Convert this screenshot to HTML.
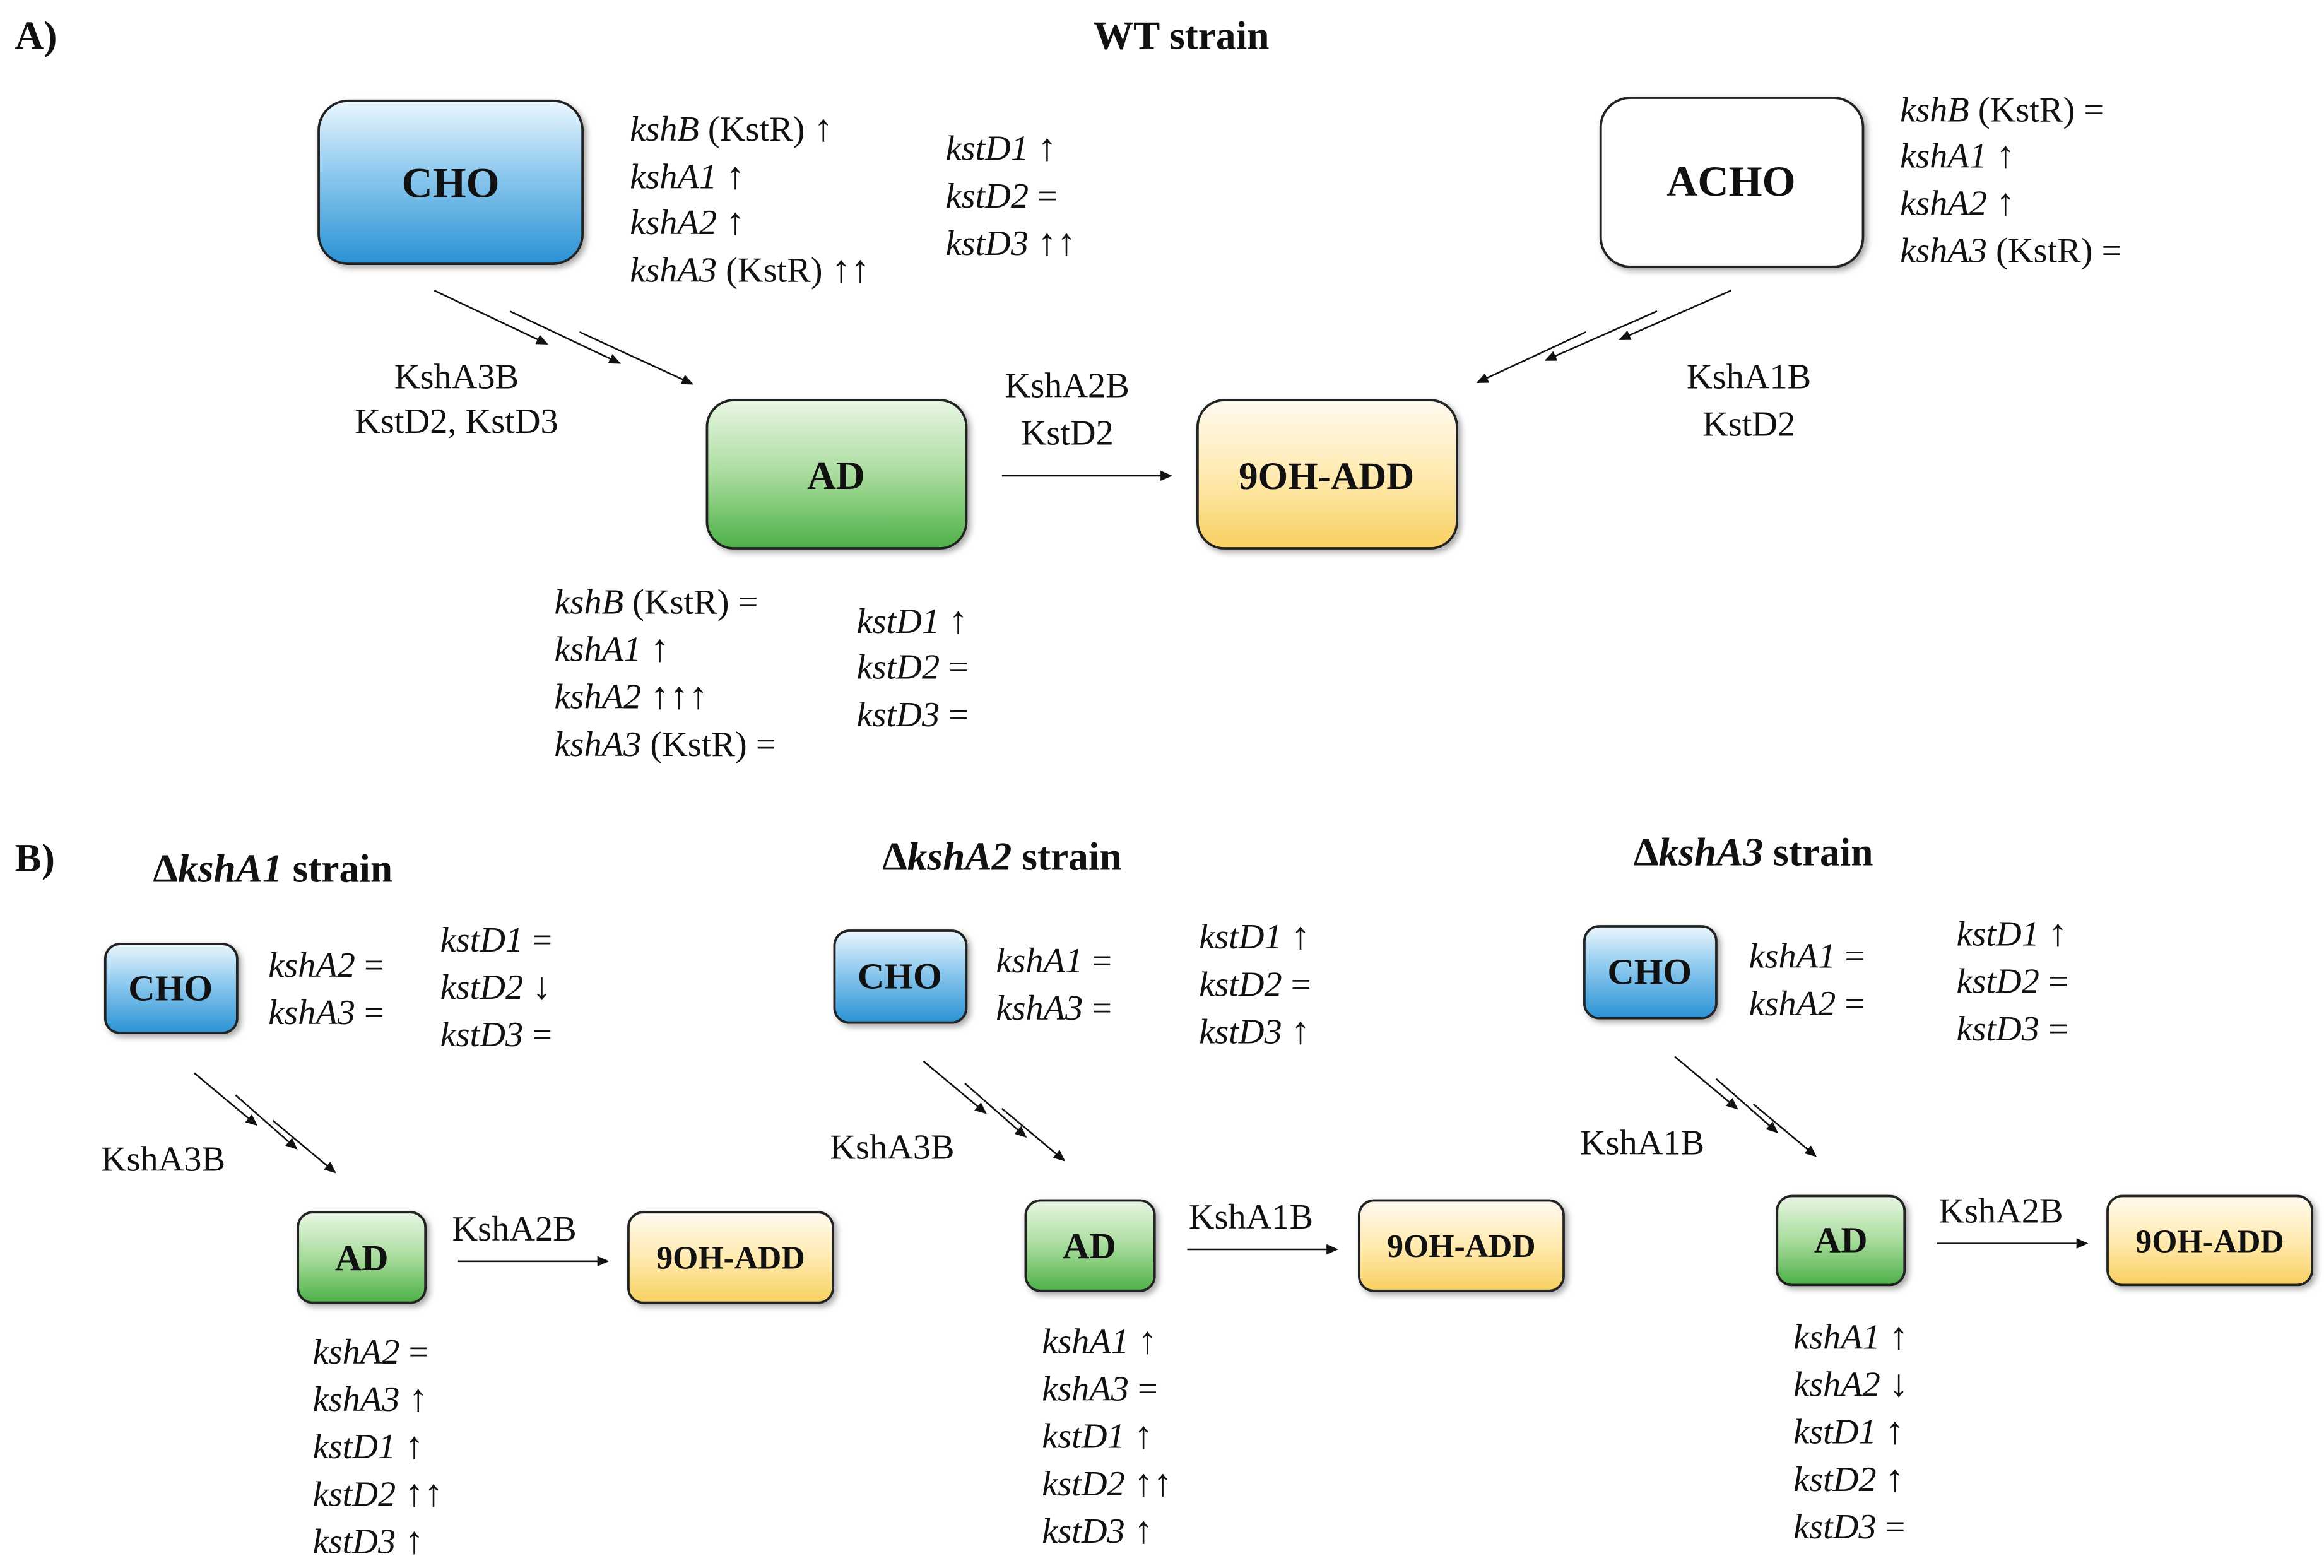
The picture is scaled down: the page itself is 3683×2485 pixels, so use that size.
<!DOCTYPE html>
<html><head><meta charset="utf-8"><style>
html,body{margin:0;padding:0;background:#fff;}
svg{display:block;}
text{font-family:"Liberation Serif",serif;fill:#111;}
.t{font-size:24px;}
.i{font-style:italic;}
.b{font-weight:bold;}
.ar{font-size:26px;}
</style></head><body>
<svg width="3683" height="2485" viewBox="0 0 1568 1058" xmlns="http://www.w3.org/2000/svg">
<defs>
<linearGradient id="blue" x1="0" y1="0" x2="0" y2="1"><stop offset="0" stop-color="#eaf6fd"/><stop offset="0.45" stop-color="#8cc8ee"/><stop offset="1" stop-color="#2a92d4"/></linearGradient>
<linearGradient id="green" x1="0" y1="0" x2="0" y2="1"><stop offset="0" stop-color="#e8f6e4"/><stop offset="0.5" stop-color="#a8dc9c"/><stop offset="1" stop-color="#4db048"/></linearGradient>
<linearGradient id="yellow" x1="0" y1="0" x2="0" y2="1"><stop offset="0" stop-color="#fffaf0"/><stop offset="0.5" stop-color="#ffeab0"/><stop offset="1" stop-color="#f8d060"/></linearGradient>
<marker id="ah" markerWidth="8" markerHeight="8" refX="7" refY="4" orient="auto" markerUnits="userSpaceOnUse"><path d="M0,0.5 L8,4 L0,7.5 Z" fill="#111"/></marker>
<filter id="sh" x="-10%" y="-10%" width="130%" height="130%"><feDropShadow dx="2" dy="2" stdDeviation="2" flood-color="#000" flood-opacity="0.35"/></filter>
</defs>
<g stroke="#222" stroke-width="1.6" filter="url(#sh)">
<rect x="215" y="68" width="178" height="110" rx="20" fill="url(#blue)"/>
<rect x="1080" y="66" width="177" height="114" rx="20" fill="#fff"/>
<rect x="477" y="270" width="175" height="100" rx="18" fill="url(#green)"/>
<rect x="808" y="270" width="175" height="100" rx="18" fill="url(#yellow)"/>
<rect x="71" y="637" width="89" height="60" rx="10" fill="url(#blue)"/>
<rect x="201" y="818" width="86" height="61" rx="10" fill="url(#green)"/>
<rect x="424" y="818" width="138" height="61" rx="10" fill="url(#yellow)"/>
<rect x="563" y="628" width="89" height="62" rx="10" fill="url(#blue)"/>
<rect x="692" y="810" width="87" height="61" rx="10" fill="url(#green)"/>
<rect x="917" y="810" width="138" height="61" rx="10" fill="url(#yellow)"/>
<rect x="1069" y="625" width="89" height="62" rx="10" fill="url(#blue)"/>
<rect x="1199" y="807" width="86" height="60" rx="10" fill="url(#green)"/>
<rect x="1422" y="807" width="138" height="60" rx="10" fill="url(#yellow)"/>
</g>
<g stroke="#111" stroke-width="1.1" marker-end="url(#ah)">
<line x1="293" y1="196" x2="369" y2="232"/><line x1="344" y1="210" x2="418" y2="245"/><line x1="391" y1="224" x2="467" y2="259"/>
<line x1="1168" y1="196" x2="1093" y2="229"/><line x1="1118" y1="210" x2="1043" y2="243"/><line x1="1070" y1="224" x2="997" y2="258"/>
<line x1="676" y1="321" x2="790" y2="321"/>
<line x1="131" y1="724" x2="173" y2="759"/><line x1="159" y1="739" x2="200" y2="775"/><line x1="184" y1="756" x2="226" y2="791"/>
<line x1="309" y1="851" x2="410" y2="851"/>
<line x1="623" y1="716" x2="665" y2="751"/><line x1="651" y1="731" x2="692" y2="767"/><line x1="676" y1="748" x2="718" y2="783"/>
<line x1="801" y1="843" x2="902" y2="843"/>
<line x1="1130" y1="713" x2="1172" y2="748"/><line x1="1158" y1="728" x2="1199" y2="764"/><line x1="1183" y1="745" x2="1225" y2="780"/>
<line x1="1307" y1="839" x2="1408" y2="839"/>
</g>
<text x="10" y="33" class="b" font-size="27">A)</text>
<text x="797" y="33" class="b" font-size="27" text-anchor="middle">WT strain</text>
<text x="304" y="133" class="b" font-size="29" text-anchor="middle">CHO</text>
<text x="1168" y="132" class="b" font-size="29" text-anchor="middle">ACHO</text>
<text x="564" y="330" class="b" font-size="27" text-anchor="middle">AD</text>
<text x="895" y="330" class="b" font-size="26" text-anchor="middle">9OH-ADD</text>
<g class="t">
<text x="425" y="95"><tspan class="i">kshB</tspan> (KstR) <tspan class="ar">↑</tspan></text>
<text x="425" y="127"><tspan class="i">kshA1</tspan> <tspan class="ar">↑</tspan></text>
<text x="425" y="158"><tspan class="i">kshA2</tspan> <tspan class="ar">↑</tspan></text>
<text x="425" y="190"><tspan class="i">kshA3</tspan> (KstR) <tspan class="ar">↑↑</tspan></text>
<text x="638" y="108"><tspan class="i">kstD1</tspan> <tspan class="ar">↑</tspan></text>
<text x="638" y="140"><tspan class="i">kstD2</tspan> =</text>
<text x="638" y="172"><tspan class="i">kstD3</tspan> <tspan class="ar">↑↑</tspan></text>
<text x="1282" y="82"><tspan class="i">kshB</tspan> (KstR) =</text>
<text x="1282" y="113"><tspan class="i">kshA1</tspan> <tspan class="ar">↑</tspan></text>
<text x="1282" y="145"><tspan class="i">kshA2</tspan> <tspan class="ar">↑</tspan></text>
<text x="1282" y="177"><tspan class="i">kshA3</tspan> (KstR) =</text>
<text x="308" y="262" text-anchor="middle">KshA3B</text>
<text x="308" y="292" text-anchor="middle">KstD2, KstD3</text>
<text x="720" y="268" text-anchor="middle">KshA2B</text>
<text x="720" y="300" text-anchor="middle">KstD2</text>
<text x="1180" y="262" text-anchor="middle">KshA1B</text>
<text x="1180" y="294" text-anchor="middle">KstD2</text>
<text x="374" y="414"><tspan class="i">kshB</tspan> (KstR) =</text>
<text x="374" y="446"><tspan class="i">kshA1</tspan> <tspan class="ar">↑</tspan></text>
<text x="374" y="478"><tspan class="i">kshA2</tspan> <tspan class="ar">↑↑↑</tspan></text>
<text x="374" y="510"><tspan class="i">kshA3</tspan> (KstR) =</text>
<text x="578" y="427"><tspan class="i">kstD1</tspan> <tspan class="ar">↑</tspan></text>
<text x="578" y="458"><tspan class="i">kstD2</tspan> =</text>
<text x="578" y="490"><tspan class="i">kstD3</tspan> =</text>
</g>
<text x="10" y="588" class="b" font-size="27">B)</text>
<text x="184" y="595" class="b" font-size="27" text-anchor="middle">Δ<tspan class="i">kshA1</tspan> strain</text>
<text x="676" y="587" class="b" font-size="27" text-anchor="middle">Δ<tspan class="i">kshA2</tspan> strain</text>
<text x="1183" y="584" class="b" font-size="27" text-anchor="middle">Δ<tspan class="i">kshA3</tspan> strain</text>
<g class="b" font-size="25" text-anchor="middle">
<text x="115" y="675">CHO</text><text x="244" y="857">AD</text><text x="493" y="856" font-size="22">9OH-ADD</text>
<text x="607" y="667">CHO</text><text x="735" y="849">AD</text><text x="986" y="848" font-size="22">9OH-ADD</text>
<text x="1113" y="664">CHO</text><text x="1242" y="845">AD</text><text x="1491" y="845" font-size="22">9OH-ADD</text>
</g>
<g class="t">
<text x="181" y="659"><tspan class="i">kshA2</tspan> =</text>
<text x="181" y="691"><tspan class="i">kshA3</tspan> =</text>
<text x="297" y="642"><tspan class="i">kstD1</tspan> =</text>
<text x="297" y="674"><tspan class="i">kstD2</tspan> <tspan class="ar">↓</tspan></text>
<text x="297" y="706"><tspan class="i">kstD3</tspan> =</text>
<text x="68" y="790">KshA3B</text>
<text x="305" y="837">KshA2B</text>
<text x="211" y="920"><tspan class="i">kshA2</tspan> =</text>
<text x="211" y="952"><tspan class="i">kshA3</tspan> <tspan class="ar">↑</tspan></text>
<text x="211" y="984"><tspan class="i">kstD1</tspan> <tspan class="ar">↑</tspan></text>
<text x="211" y="1016"><tspan class="i">kstD2</tspan> <tspan class="ar">↑↑</tspan></text>
<text x="211" y="1048"><tspan class="i">kstD3</tspan> <tspan class="ar">↑</tspan></text>

<text x="672" y="656"><tspan class="i">kshA1</tspan> =</text>
<text x="672" y="688"><tspan class="i">kshA3</tspan> =</text>
<text x="809" y="640"><tspan class="i">kstD1</tspan> <tspan class="ar">↑</tspan></text>
<text x="809" y="672"><tspan class="i">kstD2</tspan> =</text>
<text x="809" y="704"><tspan class="i">kstD3</tspan> <tspan class="ar">↑</tspan></text>
<text x="560" y="782">KshA3B</text>
<text x="802" y="829">KshA1B</text>
<text x="703" y="913"><tspan class="i">kshA1</tspan> <tspan class="ar">↑</tspan></text>
<text x="703" y="945"><tspan class="i">kshA3</tspan> =</text>
<text x="703" y="977"><tspan class="i">kstD1</tspan> <tspan class="ar">↑</tspan></text>
<text x="703" y="1009"><tspan class="i">kstD2</tspan> <tspan class="ar">↑↑</tspan></text>
<text x="703" y="1041"><tspan class="i">kstD3</tspan> <tspan class="ar">↑</tspan></text>

<text x="1180" y="653"><tspan class="i">kshA1</tspan> =</text>
<text x="1180" y="685"><tspan class="i">kshA2</tspan> =</text>
<text x="1320" y="638"><tspan class="i">kstD1</tspan> <tspan class="ar">↑</tspan></text>
<text x="1320" y="670"><tspan class="i">kstD2</tspan> =</text>
<text x="1320" y="702"><tspan class="i">kstD3</tspan> =</text>
<text x="1066" y="779">KshA1B</text>
<text x="1308" y="825">KshA2B</text>
<text x="1210" y="910"><tspan class="i">kshA1</tspan> <tspan class="ar">↑</tspan></text>
<text x="1210" y="942"><tspan class="i">kshA2</tspan> <tspan class="ar">↓</tspan></text>
<text x="1210" y="974"><tspan class="i">kstD1</tspan> <tspan class="ar">↑</tspan></text>
<text x="1210" y="1006"><tspan class="i">kstD2</tspan> <tspan class="ar">↑</tspan></text>
<text x="1210" y="1038"><tspan class="i">kstD3</tspan> =</text>
</g>
</svg>
</body></html>
